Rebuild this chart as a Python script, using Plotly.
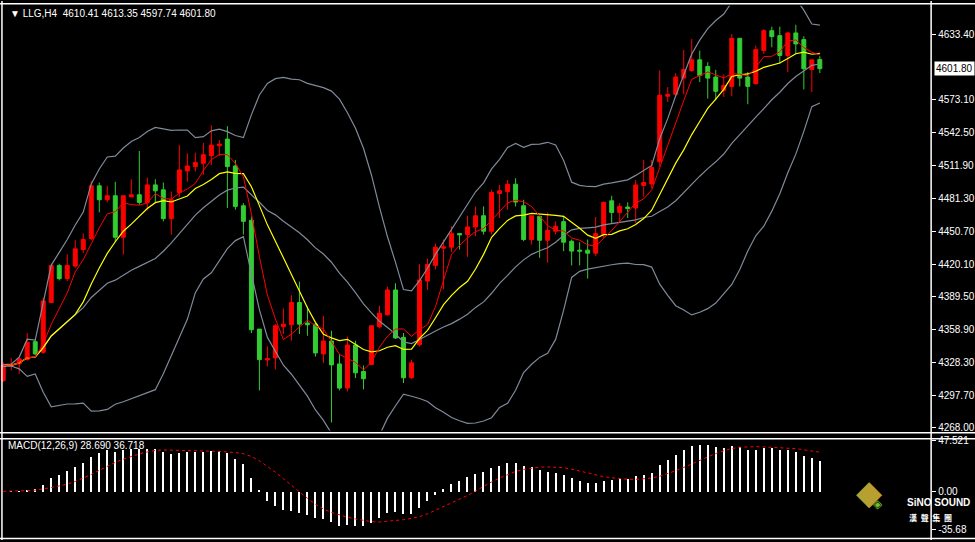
import pandas as pd
import plotly.graph_objects as go

# LLG H4 candles (red = up, green = down)
opens = [4311.8, 4325.1, 4327.2, 4331.3, 4347.9, 4338.0, 4384.3, 4418.8, 4406.5, 4418.2,
         4433.6, 4443.8, 4492.8, 4479.9, 4483.6, 4445.0, 4482.6, 4484.5, 4477.4, 4493.7,
         4489.1, 4462.3, 4486.6, 4506.7, 4510.7, 4513.8, 4520.9, 4530.1, 4536.3, 4511.3,
         4474.3, 4460.7, 4359.6, 4330.9, 4332.8, 4361.8, 4363.6, 4384.3, 4365.2, 4364.2,
         4336.5, 4348.5, 4327.2, 4304.7, 4344.8, 4320.2, 4326.6, 4361.8, 4372.9, 4396.0,
         4351.9, 4314.3, 4345.1, 4404.3, 4418.8, 4434.8, 4435.8, 4448.4, 4447.5, 4454.6,
         4465.0, 4450.6, 4485.7, 4487.6, 4494.3, 4474.3, 4442.9, 4464.4, 4442.2, 4450.6,
         4459.5, 4441.3, 4433.0, 4433.0, 4430.2, 4447.5, 4478.9, 4468.1, 4473.1, 4472.2,
         4493.1, 4494.6, 4515.3, 4576.1, 4577.9, 4593.0, 4600.1, 4610.0, 4603.8, 4594.0,
         4581.6, 4585.3, 4630.0, 4594.0, 4587.8, 4618.6, 4637.1, 4632.5, 4614.0, 4635.0,
         4628.8, 4601.0, 4610.41]
highs = [4328.8, 4332.5, 4333.4, 4355.9, 4350.4, 4388.9, 4419.4, 4420.3, 4429.0, 4442.2,
         4448.4, 4497.4, 4495.9, 4492.8, 4496.5, 4483.6, 4499.0, 4525.2, 4500.5, 4499.0,
         4495.9, 4487.6, 4530.7, 4523.0, 4523.6, 4532.9, 4549.2, 4535.4, 4548.3, 4516.9,
         4476.8, 4464.4, 4359.6, 4343.6, 4364.2, 4378.7, 4391.1, 4403.7, 4380.6, 4366.4,
         4371.9, 4358.1, 4336.5, 4352.5, 4348.8, 4325.7, 4362.7, 4381.2, 4399.1, 4402.2,
         4355.9, 4331.2, 4419.7, 4425.0, 4439.2, 4442.9, 4455.2, 4448.4, 4465.0, 4473.7,
         4473.7, 4489.1, 4493.7, 4498.3, 4499.9, 4479.9, 4465.0, 4464.4, 4468.1, 4459.8,
         4465.0, 4442.9, 4440.4, 4442.9, 4463.8, 4478.3, 4483.6, 4476.8, 4477.4, 4498.3,
         4516.8, 4516.8, 4600.1, 4584.7, 4597.6, 4619.2, 4629.4, 4618.6, 4607.8, 4600.7,
         4596.4, 4634.0, 4630.0, 4598.6, 4623.2, 4638.6, 4640.8, 4640.8, 4635.6, 4642.6,
         4631.9, 4610.0, 4613.35]
lows = [4310.3, 4321.1, 4318.0, 4330.3, 4335.6, 4336.5, 4384.3, 4404.9, 4404.3, 4416.6,
        4430.5, 4442.2, 4468.1, 4477.4, 4440.4, 4429.0, 4482.3, 4475.2, 4470.0, 4477.4,
        4459.8, 4447.5, 4482.3, 4496.8, 4506.1, 4503.0, 4512.2, 4520.6, 4472.2, 4470.6,
        4447.5, 4355.9, 4302.6, 4324.8, 4322.0, 4355.0, 4348.8, 4355.0, 4353.4, 4334.0,
        4327.9, 4272.7, 4302.6, 4301.6, 4314.0, 4303.5, 4326.6, 4360.2, 4371.9, 4350.4,
        4309.4, 4313.4, 4343.3, 4396.0, 4415.1, 4396.6, 4431.2, 4433.6, 4426.8, 4446.0,
        4447.5, 4447.5, 4462.9, 4470.6, 4473.7, 4441.3, 4438.2, 4425.9, 4421.3, 4447.5,
        4432.1, 4418.8, 4418.8, 4406.5, 4427.4, 4444.4, 4458.3, 4458.3, 4462.9, 4458.3,
        4482.9, 4490.6, 4510.7, 4570.8, 4577.0, 4577.9, 4598.6, 4589.3, 4573.9, 4572.3,
        4575.4, 4576.1, 4585.3, 4568.7, 4587.1, 4615.5, 4621.7, 4606.3, 4598.6, 4615.5,
        4582.5, 4580.1, 4597.74]
closes = [4325.7, 4326.6, 4331.9, 4347.3, 4336.5, 4385.8, 4418.8, 4406.5, 4418.8, 4434.2,
          4442.9, 4492.8, 4479.9, 4483.6, 4445.0, 4483.6, 4484.5, 4477.4, 4493.7, 4488.2,
          4462.3, 4479.9, 4507.6, 4511.3, 4514.4, 4521.8, 4530.7, 4531.6, 4510.7, 4473.7,
          4459.8, 4359.0, 4331.2, 4332.2, 4362.7, 4364.2, 4384.3, 4364.2, 4363.6, 4337.4,
          4348.5, 4326.3, 4304.7, 4344.8, 4318.9, 4313.4, 4362.7, 4374.4, 4396.0, 4351.3,
          4314.3, 4328.2, 4405.2, 4419.7, 4435.8, 4436.1, 4448.4, 4447.2, 4454.6, 4465.0,
          4450.6, 4486.6, 4488.2, 4494.3, 4477.7, 4442.9, 4465.0, 4442.2, 4451.5, 4455.2,
          4440.4, 4432.1, 4432.1, 4430.2, 4448.4, 4477.4, 4468.1, 4473.7, 4471.8, 4493.7,
          4495.9, 4509.8, 4577.0, 4577.9, 4594.0, 4601.0, 4610.0, 4595.5, 4593.0, 4580.7,
          4586.2, 4630.0, 4593.0, 4585.3, 4619.5, 4637.1, 4631.6, 4614.0, 4635.0, 4624.8,
          4601.7, 4610.0, 4601.80]

price_ticks = [4633.40, 4573.10, 4542.50, 4511.90, 4481.30, 4450.70, 4420.10,
               4389.50, 4358.90, 4328.30, 4297.70, 4268.00]
macd_ticks = [47.521, 0.0, -35.68]
last_price = 4601.80
header = "\u25bc LLG,H4  4610.41 4613.35 4597.74 4601.80"
macd_label = "MACD(12,26,9) 28.690 36.718"

x = list(range(len(closes)))
c = pd.Series(closes)

# indicators: BB(20,2), MA5 (red), MA10 (yellow), MACD(12,26,9)
mid = c.rolling(20, min_periods=1).mean()
sd = c.rolling(20, min_periods=2).std(ddof=0).bfill()
upper = mid + 2 * sd
lower = mid - 2 * sd
ma_red = c.rolling(5, min_periods=1).mean()
ma_yel = c.rolling(10, min_periods=1).mean()
macd = c.ewm(span=12, adjust=False).mean() - c.ewm(span=26, adjust=False).mean()
signal = macd.rolling(9, min_periods=1).mean()

font = "Liberation Sans"
grey = "#7f8a99"

fig = go.Figure()
for band in [upper, mid, lower]:
    fig.add_trace(go.Scatter(x=x, y=band, mode="lines", line=dict(color=grey, width=1.2),
                             hoverinfo="skip"))
fig.add_trace(go.Scatter(x=x, y=ma_yel, mode="lines", line=dict(color="#ffff00", width=1.2)))
fig.add_trace(go.Scatter(x=x, y=ma_red, mode="lines", line=dict(color="#ff0000", width=1)))
fig.add_trace(go.Candlestick(x=x, open=opens, high=highs, low=lows, close=closes,
                             increasing=dict(line=dict(color="#ff0000", width=1), fillcolor="#ff0000"),
                             decreasing=dict(line=dict(color="#32cd32", width=1), fillcolor="#32cd32"),
                             whiskerwidth=0))
fig.add_trace(go.Bar(x=x, y=macd, marker=dict(color="white", line=dict(width=0)), width=0.15,
                     xaxis="x2", yaxis="y2"))
fig.add_trace(go.Scatter(x=x, y=signal, mode="lines", line=dict(color="#ff0000", width=1, dash="dot"),
                         xaxis="x2", yaxis="y2"))

xr = [-0.4, 115.9]
axis_font = dict(family=font, size=10, color="white")
fig.update_layout(
    width=975, height=542, margin=dict(l=0, r=0, t=0, b=0),
    paper_bgcolor="black", plot_bgcolor="black", showlegend=False,
    xaxis=dict(domain=[0, 0.955], range=xr, showgrid=False, showticklabels=False,
               zeroline=False, rangeslider=dict(visible=False)),
    xaxis2=dict(domain=[0, 0.955], range=xr, showgrid=False, showticklabels=False,
                zeroline=False, anchor="y2"),
    yaxis=dict(domain=[0.203, 0.991], range=[4265.2, 4660.2], side="right", showgrid=False,
               zeroline=False, tickvals=price_ticks, ticktext=[f"{v:.2f}" for v in price_ticks],
               ticks="outside", ticklen=4, tickcolor="white", tickfont=axis_font),
    yaxis2=dict(domain=[0.007, 0.192], range=[-42, 51.3], side="right", showgrid=False,
                zeroline=False, anchor="x2", tickvals=macd_ticks,
                ticktext=["47.521", "0.00", "-35.68"],
                ticks="outside", ticklen=4, tickcolor="white", tickfont=axis_font),
    bargap=0,
)

# frame lines
line_w = dict(color="white", width=1.5)
for y0 in [0.203, 0.192]:
    fig.add_shape(type="line", xref="paper", yref="paper", x0=0, x1=1, y0=y0 - 0.004, y1=y0 - 0.004,
                  line=line_w)
fig.add_shape(type="line", xref="paper", yref="paper", x0=0, x1=1, y0=0.995, y1=0.995, line=line_w)
fig.add_shape(type="line", xref="paper", yref="paper", x0=0, x1=1, y0=0.003, y1=0.003, line=line_w)
fig.add_shape(type="line", xref="paper", yref="paper", x0=0.002, x1=0.002, y0=0, y1=1, line=line_w)
fig.add_shape(type="line", xref="paper", yref="paper", x0=0.955, x1=0.955, y0=0, y1=1, line=line_w)

fig.add_annotation(xref="paper", yref="paper", x=0.008, y=0.99, xanchor="left", yanchor="top",
                   text=header, showarrow=False, font=dict(family=font, size=10, color="white"))
fig.add_annotation(xref="paper", yref="paper", x=0.006, y=0.19, xanchor="left", yanchor="top",
                   text=macd_label, showarrow=False, font=dict(family=font, size=10, color="white"))
fig.add_annotation(xref="paper", yref="y", x=0.958, y=last_price, xanchor="left", yanchor="middle",
                   text=f"{last_price:.2f}", showarrow=False, bgcolor="white",
                   font=dict(family=font, size=10, color="black"), borderpad=1)

# logo
fig.add_annotation(xref="paper", yref="paper", x=0.908, y=0.045, text="\u25c6", showarrow=False,
                   font=dict(size=34, color="#b8a030"))
fig.add_annotation(xref="paper", yref="paper", x=0.908, y=0.048, text="\u25c8", showarrow=False,
                   font=dict(size=12, color="#6fbf2f"))
fig.add_annotation(xref="paper", yref="paper", x=0.928, y=0.055, xanchor="left", showarrow=False,
                   text="<b>SiNO SOUND</b>", font=dict(family=font, size=10, color="white"))
fig.add_annotation(xref="paper", yref="paper", x=0.93, y=0.027, xanchor="left", showarrow=False,
                   text="<b>\u6f22  \u8072  \u96c6  \u5718</b>",
                   font=dict(family="Noto Sans CJK TC", size=8, color="white"))

fig.write_html("out.html", config={"displayModeBar": False},
               post_script="document.body.style.margin='0';")
